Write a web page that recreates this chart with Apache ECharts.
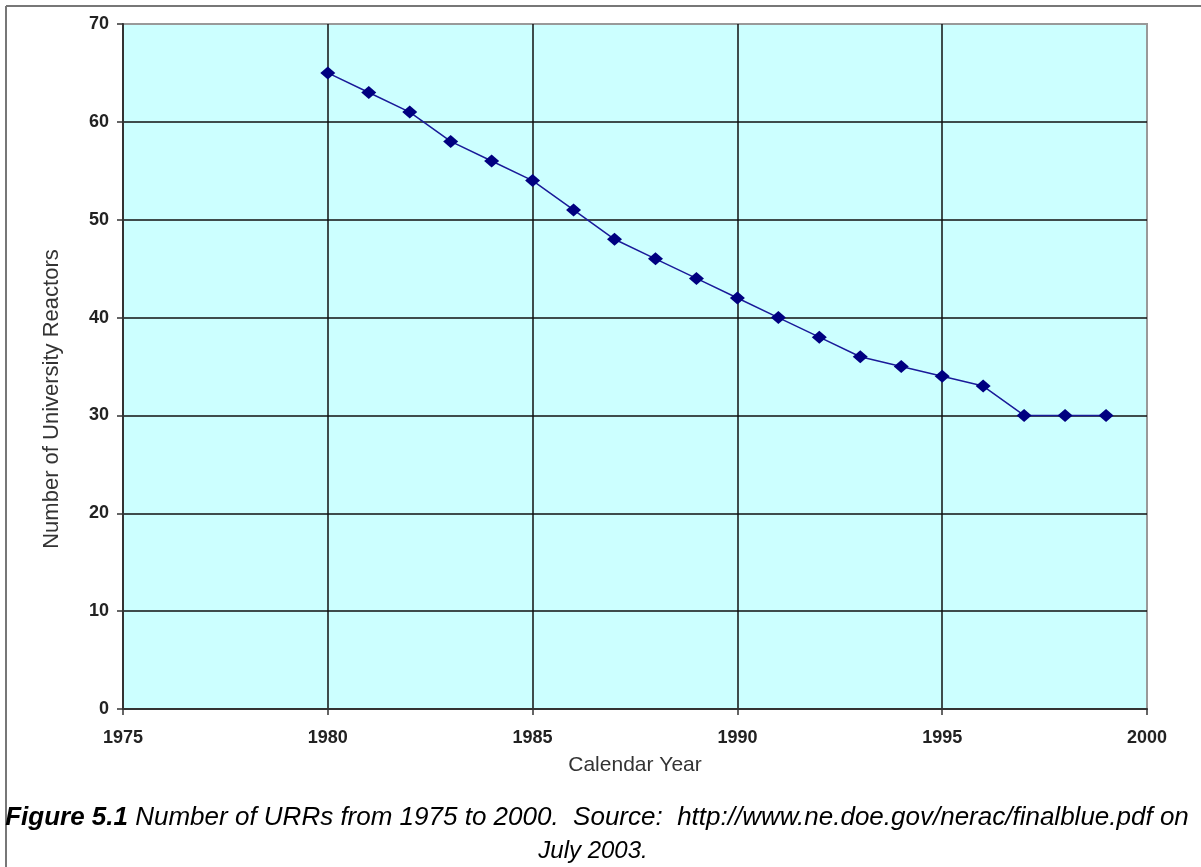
<!DOCTYPE html>
<html><head><meta charset="utf-8">
<script src="https://cdn.jsdelivr.net/npm/echarts@6/dist/echarts.min.js"></script>
<style>html,body{margin:0;padding:0;background:#fff}#c{width:1201px;height:867px}</style>
</head><body><div id="c"></div>
<script>
const years = [1980,1981,1982,1983,1984,1985,1986,1987,1988,1989,1990,1991,1992,1993,1994,1995,1996,1997,1998,1999];
const reactors = [65,63,61,58,56,54,51,48,46,44,42,40,38,36,35,34,33,30,30,30];
const xTicks = [1975,1980,1985,1990,1995,2000];
const yTicks = [0,10,20,30,40,50,60,70];
const yTitle = 'Number of University Reactors';
const xTitle = 'Calendar Year';
const captionBold = 'Figure 5.1';
const captionRest = ' Number of URRs from 1975 to 2000.  Source:  http://www.ne.doe.gov/nerac/finalblue.pdf on';
const captionLine2 = 'July 2003.';

const FF = 'Liberation Sans, Arial, sans-serif';
const chart = echarts.init(document.getElementById('c'), null, {renderer:'canvas'});
const labelStyle = {color:'#222', fontFamily:FF, fontSize:18, fontWeight:'bold'};
chart.setOption({
  animation:false,
  backgroundColor:'#fff',
  grid:{left:123, top:24, right:54, bottom:158, show:true, backgroundColor:'#ccffff', borderColor:'#999', borderWidth:2},
  xAxis:{
    type:'value', min:xTicks[0], max:xTicks[xTicks.length-1], interval:5,
    axisLine:{show:true, onZero:false, lineStyle:{color:'#333', width:2}},
    axisTick:{show:true, length:6, lineStyle:{color:'#333', width:1.5}},
    axisLabel:Object.assign({margin:20, formatter:v=>xTicks.includes(v)?String(v):''}, labelStyle),
    splitLine:{show:true, showMaxLine:false, showMinLine:false, lineStyle:{color:'#111', width:1.5}},
    name:xTitle, nameLocation:'middle', nameGap:46,
    nameTextStyle:{color:'#333', fontFamily:FF, fontSize:21}
  },
  yAxis:{
    type:'value', min:yTicks[0], max:yTicks[yTicks.length-1], interval:10,
    axisLine:{show:true, lineStyle:{color:'#333', width:2}},
    axisTick:{show:true, length:6, lineStyle:{color:'#333', width:1.5}},
    axisLabel:Object.assign({margin:14}, labelStyle),
    splitLine:{show:true, showMaxLine:false, showMinLine:false, lineStyle:{color:'#111', width:1.5}}
  },
  series:[{
    type:'line', data:years.map((y,i)=>[y,reactors[i]]),
    symbol:'diamond', symbolSize:[15,13],
    itemStyle:{color:'#000080'},
    lineStyle:{color:'#1a1a99', width:1.5}
  }],
  graphic:[
    {type:'line', shape:{x1:6,y1:6,x2:1201,y2:6}, style:{stroke:'#777', lineWidth:2}},
    {type:'line', shape:{x1:6,y1:6,x2:6,y2:867}, style:{stroke:'#777', lineWidth:2}},
    {type:'text', x:52, y:399, rotation:Math.PI/2, style:{
      text:yTitle, fontFamily:FF, fontSize:22, fill:'#333', align:'center', verticalAlign:'middle'}},
    {type:'text', x:597, y:818, style:{
      text:'{b|'+captionBold+'}{i|'+captionRest+'}', align:'center', verticalAlign:'middle',
      rich:{
        b:{fontFamily:FF, fontSize:26, fontStyle:'italic', fontWeight:'bold', fill:'#000'},
        i:{fontFamily:FF, fontSize:26, fontStyle:'italic', fill:'#000'}
      }}},
    {type:'text', x:593, y:851, style:{
      text:captionLine2, fontFamily:FF, fontSize:24, fontStyle:'italic', fill:'#000', align:'center', verticalAlign:'middle'}}
  ]
});
</script></body></html>
